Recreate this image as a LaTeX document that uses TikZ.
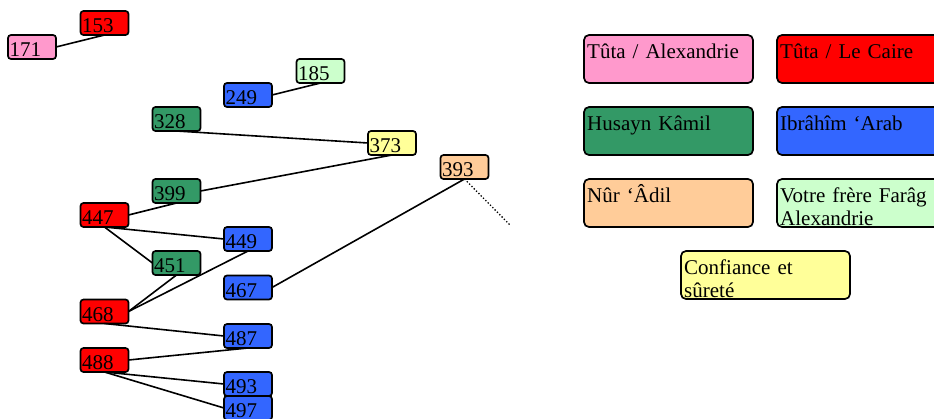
\documentclass[tikz,border=0pt]{standalone}
\usepackage{fontspec}
\setmainfont{Liberation Serif}
\definecolor{cpink}{HTML}{FF99CC}
\definecolor{cred}{HTML}{FF0000}
\definecolor{cgreen}{HTML}{339966}
\definecolor{cblue}{HTML}{3366FF}
\definecolor{cpeach}{HTML}{FFCC99}
\definecolor{clgreen}{HTML}{CCFFCC}
\definecolor{cyellow}{HTML}{FFFF99}
\tikzset{
  numbox/.style={draw=black, line width=1.7pt, rounded corners=3pt, anchor=north west,
    outer sep=0pt, inner xsep=1.5pt, inner ysep=2.5pt, text width=45pt, align=left,
    text height=19pt, text depth=0pt, font=\fontsize{21}{23}\selectfont},
  legbox/.style={draw=black, line width=1.7pt, rounded corners=5pt, anchor=north west,
    outer sep=0pt, inner sep=0pt, minimum width=169pt, minimum height=48pt},
  legtext/.style={anchor=base west, inner sep=0pt, text width=163pt, align=left,
    font=\fontsize{21}{23}\selectfont},
  conn/.style={draw=black, line width=1.6pt},
  dotconn/.style={draw=black, line width=1.3pt, dotted}
}
\newcommand\mklegend[4]{%
  \node[legbox, fill=#3] (#1) at (#2) {};
  \begin{scope}
    \clip ([shift={(0.85,0.85)}]#1.north west) rectangle ([shift={(-0.85,-0.85)}]#1.south east);
    \node[legtext] (#1t) at ([shift={(3,23)}]#1.north west) {#4};
  \end{scope}}
\begin{document}
\begin{tikzpicture}[x=1pt,y=-1pt]
\useasboundingbox (0,0) rectangle (934,418);
% number nodes
\node[numbox, fill=cred]    (n153) at (80.5,11)   {153};
\node[numbox, fill=cpink]   (n171) at (8,35)      {171};
\node[numbox, fill=clgreen] (n185) at (296.5,59)  {185};
\node[numbox, fill=cblue]   (n249) at (224,83)    {249};
\node[numbox, fill=cgreen]  (n328) at (152.5,107) {328};
\node[numbox, fill=cyellow] (n373) at (368,131)   {373};
\node[numbox, fill=cpeach]  (n393) at (440.5,155) {393};
\node[numbox, fill=cgreen]  (n399) at (152.5,179) {399};
\node[numbox, fill=cred]    (n447) at (80.5,203)  {447};
\node[numbox, fill=cblue]   (n449) at (224,227)   {449};
\node[numbox, fill=cgreen]  (n451) at (152.5,251) {451};
\node[numbox, fill=cblue]   (n467) at (224,275.5) {467};
\node[numbox, fill=cred]    (n468) at (80.5,299.5){468};
\node[numbox, fill=cblue]   (n487) at (224,324)   {487};
\node[numbox, fill=cred]    (n488) at (80.5,348)  {488};
\node[numbox, fill=cblue]   (n493) at (224,372)   {493};
\node[numbox, fill=cblue]   (n497) at (224,396)   {497};
\coordinate (d1) at (510,225);
% connectors
\draw[conn] (n171.east) -- (n153.south);
\draw[conn] (n249.east) -- (n185.south);
\draw[conn] (n328.south) -- (n373.west);
\draw[conn] (n399.east) -- (n373.south);
\draw[conn] (n447.east) -- (n399.south);
\draw[conn] (n447.south) -- (n449.west);
\draw[conn] (n447.south) -- (n451.west);
\draw[conn] (n468.east) -- (n451.south);
\draw[conn] (n468.east) -- (n449.south);
\draw[conn] (n467.east) -- (n393.south);
\draw[conn] (n468.south) -- (n487.west);
\draw[conn] (n488.east) -- (n487.south);
\draw[conn] (n488.south) -- (n493.west);
\draw[conn] (n488.south) -- (n497.west);
\draw[dotconn] (n393.south) -- (d1);
% legend
\mklegend{L1}{584,35}{cpink}{Tûta / Alexandrie}
\mklegend{L2}{777,35}{cred}{Tûta / Le Caire}
\mklegend{L3}{584,107}{cgreen}{Husayn Kâmil}
\mklegend{L4}{777,107}{cblue}{Ibrâhîm ‘Arab}
\mklegend{L5}{584,179}{cpeach}{Nûr ‘Âdil}
\mklegend{L6}{777,179}{clgreen}{Votre frère Farâg\\Alexandrie}
\mklegend{L7}{681,251}{cyellow}{Confiance et\\sûreté}
\end{tikzpicture}
\end{document}
